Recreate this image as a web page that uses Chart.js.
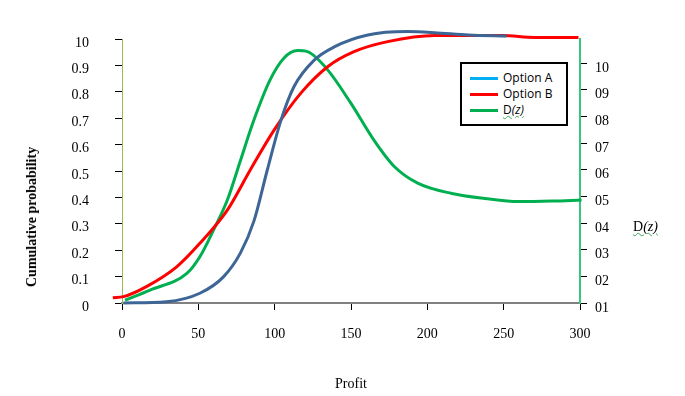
<!DOCTYPE html>
<html>
<head>
<meta charset="utf-8">
<script src="https://cdn.jsdelivr.net/npm/chart.js@4"></script>
<style>
  body { margin: 0; background: #fff; }
  #wrap { position: relative; width: 685px; height: 396px; }
  #legend {
    position: absolute; left: 460px; top: 62px; width: 104px; height: 60px;
    border: 2px solid #000; background: #fff;
    font: 12px "Open Sans", "Liberation Sans", sans-serif; color: #000;
  }
  #legend .item { position: absolute; left: 8px; height: 16px; line-height: 16px; }
  #legend .swatch { display: inline-block; width: 28px; height: 3px; vertical-align: middle; margin-right: 5px; }
  .dz { font-family: "Liberation Serif", serif; font-size: 14px; position: absolute; left: 633px; top: 219px; }
  .squig { text-decoration: underline wavy #3aa655; text-decoration-thickness: 1px; }
  #ytitle {
    position: absolute; left: 32px; top: 217px; white-space: nowrap;
    transform: translate(-50%, -50%) rotate(-90deg);
    font: bold 14px "Liberation Serif", serif; color: #000;
  }
</style>
</head>
<body>
<div id="wrap">
  <canvas id="chart" width="685" height="396"></canvas>
  <div id="ytitle">Cumulative probability</div>
  <div id="legend">
    <div class="item" style="top:6px"><span class="swatch" style="background:#00b0f0"></span>Option A</div>
    <div class="item" style="top:22px"><span class="swatch" style="background:#ff0000"></span>Option B</div>
    <div class="item" style="top:38px"><span class="swatch" style="background:#00b050"></span><span class="squig">D<i>(z)</i></span></div>
  </div>
  <div class="dz"><span class="squig">D<i>(z)</i></span></div>
</div>
<script>
// Option A (steel blue)
const profitA = [1, 29, 51, 66.6, 77.6, 86.4, 95, 104, 112.7, 125.9, 139, 161, 187, 204.6, 227, 252];
const probA   = [0, 0.005, 0.037, 0.1, 0.19, 0.31, 0.5, 0.69, 0.82, 0.92, 0.97, 1.015, 1.028, 1.024, 1.015, 1.011];

// Option B (red)
const profitB = [-6, 1, 16, 36, 51, 69, 84, 99.6, 117, 134.7, 152, 174, 205, 249, 270.6, 299];
const probB   = [0.02, 0.024, 0.062, 0.138, 0.226, 0.352, 0.504, 0.655, 0.794, 0.895, 0.952, 0.99, 1.013, 1.013, 1.006, 1.006];

// D(z) (green)
const profitD = [2, 18.4, 42.5, 51, 60, 69, 77.6, 86.4, 97, 106, 115, 121.5, 134.7, 150, 165, 178.5, 194, 216, 237.7, 259.7, 281.6, 301];
const valD    = [0.011, 0.049, 0.112, 0.175, 0.277, 0.39, 0.54, 0.693, 0.845, 0.927, 0.956, 0.952, 0.883, 0.756, 0.617, 0.516, 0.453, 0.415, 0.396, 0.384, 0.386, 0.39];

const leftTicks  = [0, 0.1, 0.2, 0.3, 0.4, 0.5, 0.6, 0.7, 0.8, 0.9, 1.0];
const rightTicks = [0.1, 0.2, 0.3, 0.4, 0.5, 0.6, 0.7, 0.8, 0.9, 1.0];

const zip = (xs, ys) => xs.map((x, i) => ({ x, y: ys[i] }));
const serif = "'Liberation Serif', 'Times New Roman', serif";

function lineSet(label, data, color) {
  return {
    label, data,
    borderColor: color,
    backgroundColor: "transparent",
    borderWidth: 3,
    pointRadius: 0,
    cubicInterpolationMode: "monotone",
    clip: false,
    yAxisID: "y",
  };
}

new Chart(document.getElementById("chart"), {
  type: "line",
  data: {
    datasets: [
      lineSet("Option A", zip(profitA, probA), "#3d6696"),
      lineSet("Option B", zip(profitB, probB), "#ff0000"),
      lineSet("D(z)", zip(profitD, valD), "#00b050"),
    ],
  },
  options: {
    responsive: false,
    animation: false,
    layout: { padding: { left: 0, top: 39, right: 0, bottom: 0 } },
    plugins: { legend: { display: false }, tooltip: { enabled: false } },
    scales: {
      x: {
        type: "linear", min: 0, max: 300,
        ticks: { stepSize: 50, color: "#000", padding: 16, font: { family: serif, size: 14 } },
        grid: { drawOnChartArea: false, tickLength: 7, color: "#000" },
        border: { color: "#808080", width: 2 },
        title: { display: true, text: "Profit", color: "#000", font: { family: serif, size: 14 }, padding: { bottom: 3 } },
        afterFit: (s) => { s.height = 93; },
      },
      y: {
        position: "left", min: 0, max: 1,
        afterBuildTicks: (s) => { s.ticks = leftTicks.map((v) => ({ value: v })); },
        ticks: {
          color: "#000", padding: 26, labelOffset: 4, font: { family: serif, size: 14 },
          callback: (v) => (v === 1 ? "10" : String(Math.round(v * 10) / 10)),
        },
        grid: { drawOnChartArea: false, tickLength: 7, color: "#000" },
        border: { color: "#9bbb59", width: 1 },
        afterFit: (s) => { s.width = 122; },
      },
      y2: {
        position: "right", min: 0.1, max: 1.09,
        afterBuildTicks: (s) => { s.ticks = rightTicks.map((v) => ({ value: v })); },
        ticks: {
          color: "#000", padding: 8, labelOffset: 5, font: { family: serif, size: 14 },
          callback: (v) => String(Math.round(v * 10)).padStart(2, "0"),
        },
        grid: { drawOnChartArea: false, tickLength: 7, color: "#000" },
        border: { color: "#3cc47c", width: 2 },
        afterFit: (s) => { s.width = 105; },
      },
    },
  },
});
</script>
</body>
</html>
